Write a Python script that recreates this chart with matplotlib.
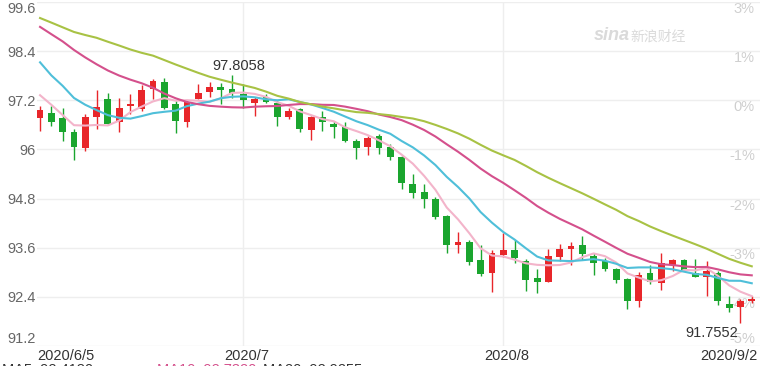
import matplotlib
matplotlib.use('Agg')
import matplotlib.pyplot as plt
import matplotlib.transforms as mtrans
import numpy as np
import pandas as pd

plt.rcParams['font.family'] = ['Liberation Sans', 'Noto Sans CJK SC', 'DejaVu Sans']

# trading days shown
dates = pd.bdate_range('2020-06-05', '2020-09-02')

# daily OHLC
opens = [96.76, 96.90, 96.76, 96.43, 96.04, 96.78, 97.23, 96.66, 97.06, 96.98,
         97.47, 97.65, 97.10, 96.66, 97.23, 97.41, 97.53, 97.47, 97.35, 97.14,
         97.27, 97.14, 96.78, 96.98, 96.48, 96.80, 96.63, 96.54, 96.21, 96.07,
         96.34, 96.07, 95.82, 95.16, 94.96, 94.80, 94.37, 93.66, 93.73, 93.30,
         92.99, 93.42, 93.54, 93.28, 92.85, 92.77, 93.38, 93.58, 93.66, 93.40,
         93.28, 93.07, 92.83, 92.29, 92.99, 92.75, 93.18, 93.30, 92.99, 92.88,
         92.99, 92.23, 92.15, 92.30]
highs = [97.06, 97.06, 97.02, 96.50, 96.86, 97.45, 97.39, 97.26, 97.35, 97.57,
         97.71, 97.74, 97.18, 97.20, 97.59, 97.65, 97.63, 97.8058, 97.60, 97.28,
         97.35, 97.20, 97.02, 97.02, 96.82, 96.94, 96.70, 96.68, 96.26, 96.34,
         96.38, 96.13, 95.85, 95.39, 95.16, 94.84, 94.39, 93.99, 93.78, 93.66,
         93.54, 93.97, 93.80, 93.32, 93.07, 93.58, 93.69, 93.74, 93.88, 93.46,
         93.36, 93.10, 92.85, 93.01, 93.18, 93.46, 93.32, 93.32, 93.32, 93.28,
         93.04, 92.42, 92.34, 92.42]
lows = [96.46, 96.58, 96.21, 95.73, 95.97, 96.50, 96.60, 96.43, 96.86, 96.94,
        97.23, 96.99, 96.39, 96.55, 97.22, 97.28, 97.12, 97.25, 97.02, 96.82,
        97.14, 96.58, 96.74, 96.42, 96.23, 96.46, 96.28, 96.19, 95.77, 95.87,
        95.89, 95.75, 95.04, 94.82, 94.58, 94.31, 93.48, 93.47, 93.18, 92.91,
        92.53, 93.38, 93.23, 92.55, 92.50, 92.77, 93.28, 93.18, 93.30, 92.94,
        93.02, 92.73, 92.10, 92.15, 92.72, 92.57, 93.02, 93.02, 92.88, 92.42,
        92.21, 92.02, 91.7552, 92.25]
closes = [96.96, 96.68, 96.42, 96.07, 96.78, 97.04, 96.62, 97.01, 97.11, 97.45,
          97.67, 97.02, 96.70, 97.17, 97.39, 97.53, 97.45, 97.37, 97.20, 97.23,
          97.17, 96.80, 96.94, 96.50, 96.78, 96.68, 96.54, 96.20, 96.04, 96.29,
          96.04, 95.82, 95.18, 94.93, 94.80, 94.34, 93.66, 93.73, 93.24, 92.96,
          93.46, 93.54, 93.34, 92.80, 92.77, 93.40, 93.58, 93.64, 93.45, 93.23,
          93.07, 92.80, 92.31, 92.94, 92.77, 93.22, 93.30, 93.06, 92.88, 93.04,
          92.29, 92.13, 92.29, 92.34]

# closes before the window, needed for the moving averages
prev_close = [100.04, 99.86, 99.48, 99.02, 99.07, 99.52, 99.78, 100.03, 99.89, 99.73,
              100.25, 99.95, 100.23, 100.44, 100.37, 99.66, 99.49, 99.12, 99.21, 99.86,
              99.87, 98.97, 99.03, 98.44, 98.34, 97.85, 97.67, 97.31, 96.83]

ma_periods = [5, 10, 20, 30]
ma_colors = ['#f3b4ca', '#4fbfd9', '#d4508c', '#a8c244']

y_ticks = [91.2, 92.4, 93.6, 94.8, 96.0, 97.2, 98.4, 99.6]
y_labels = ['91.2', '92.4', '93.6', '94.8', '96', '97.2', '98.4', '99.6']
pct_labels = ['-5%', '-4%', '-3%', '-2%', '-1%', '0%', '1%', '3%']

up_color = '#e8262a'
down_color = '#1aa52e'

fig = plt.figure(figsize=(7.6, 3.66), dpi=100)
ax = fig.add_axes([37 / 760, 20 / 366, 723 / 760, 344 / 366])

x = np.arange(len(closes))
o = np.array(opens)
c = np.array(closes)
colors = [up_color if cc >= oo else down_color for oo, cc in zip(o, c)]

# candles
ax.vlines(x, lows, highs, colors=colors, lw=1, zorder=3)
body = np.maximum(np.abs(c - o), 0.02)
ax.bar(x, body, bottom=np.minimum(o, c), width=0.6, color=colors, lw=0, zorder=3)

# moving averages
allc = pd.Series(prev_close + closes)
ma_last = []
for n, col in zip(ma_periods, ma_colors):
    ma = allc.rolling(n).mean().values[-len(closes):]
    ma_last.append(ma[-1])
    ax.plot(x, ma, color=col, lw=1.5, zorder=4)

ax.set_ylim(91.2, 99.6)
ax.set_xlim(-0.27, 63.73)

# grid
ax.set_yticks(y_ticks, y_labels)
ax.grid(axis='y', color='#eeeeee', lw=1, zorder=0)
# month starts, skipping one too close to the last day
month_start = [i for i in range(1, len(dates) - 5) if dates[i].month != dates[i - 1].month]
for i in month_start:
    ax.axvline(i, color='#eeeeee', lw=1, zorder=0)
ax.set_xticks([])
for s in ax.spines.values():
    s.set_visible(False)
ax.tick_params(axis='y', length=0, pad=1, labelsize=10.5, labelcolor='#666666')
tl = ax.get_yticklabels()
tl[0].set_va('bottom')
tl[-1].set_va('top')

# right percent labels
bt = mtrans.blended_transform_factory(ax.transAxes, ax.transData)
for i, (v, t) in enumerate(zip(y_ticks, pct_labels)):
    ax.text(0.993, v, t, transform=bt, ha='right', va='bottom' if i == 0 else 'top',
            fontsize=10.5, color='#cfcfcf', zorder=1)

# x labels
def fmt(d, full):
    return f'{d.year}/{d.month}/{d.day}' if full else f'{d.year}/{d.month}'

xt = mtrans.blended_transform_factory(ax.transData, ax.transAxes)
ax.text(0, -0.008, fmt(dates[0], True), transform=ax.transAxes, ha='left', va='top',
        fontsize=10.5, color='#333333')
for i in month_start:
    ax.text(i + 0.3, -0.008, fmt(dates[i], False), transform=xt, ha='center', va='top',
            fontsize=10.5, color='#333333')
ax.text(0.997, -0.008, fmt(dates[-1], True), transform=ax.transAxes, ha='right', va='top',
        fontsize=10.5, color='#333333')

# max / min annotations
hi = int(np.argmax(highs))
lo = int(np.argmin(lows))
ax.annotate(f'{highs[hi]:.4f}', (hi + 0.6, highs[hi]), xytext=(0, 2), textcoords='offset points',
            ha='center', va='bottom', fontsize=10.5, color='#333333', zorder=6)
ax.annotate(f'{lows[lo]:.4f}', (lo - 0.25, lows[lo]), xytext=(0, -2), textcoords='offset points',
            ha='right', va='top', fontsize=10.5, color='#333333', zorder=6)

# watermark
fig.text(594 / 760, 1 - 40 / 366, 'sina', style='italic', weight='bold', fontsize=13,
         color='#dadada', va='baseline')
fig.text(630 / 760, 1 - 41 / 366, '新浪财经', family=['Noto Sans CJK SC'], fontsize=10,
         color='#dadada', va='baseline')

# legend line, cut off at the bottom edge
leg_x = [2, 157, 263]
leg_col = ['#333333', '#d4508c', '#333333']
for px, n, v, col in zip(leg_x, ma_periods, ma_last, leg_col):
    fig.text(px / 760, 3.5 / 366, f'MA{n}: {v:.4f}', fontsize=10.5, color=col, va='top')

fig.savefig('out.png', dpi=100)
